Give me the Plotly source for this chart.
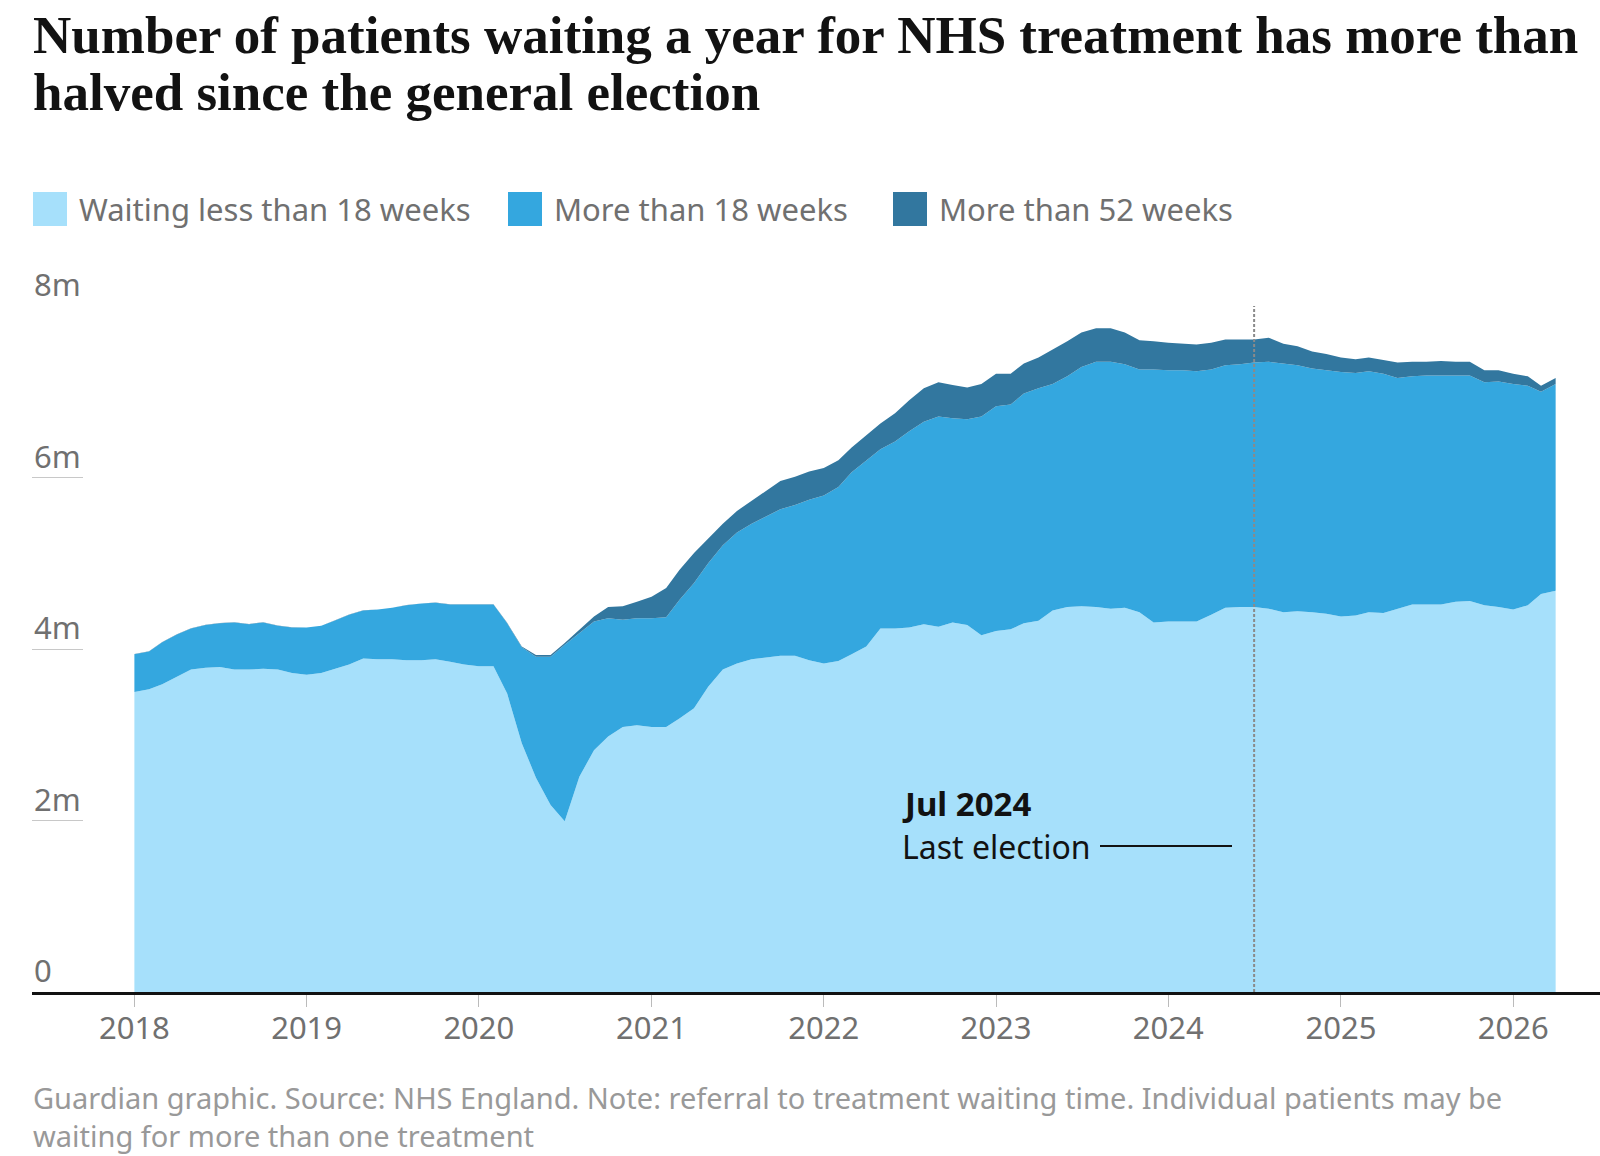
import pandas as pd
import plotly.graph_objects as go

# monthly NHS RTT waiting list, millions
under_18 = [3.50, 3.53, 3.59, 3.68, 3.76, 3.78, 3.79, 3.76, 3.76, 3.77,
            3.76, 3.72, 3.70, 3.72, 3.77, 3.82, 3.89, 3.88, 3.88, 3.87,
            3.87, 3.88, 3.85, 3.82, 3.80, 3.80, 3.48, 2.90, 2.50, 2.18,
            1.99, 2.51, 2.82, 2.98, 3.09, 3.11, 3.09, 3.09, 3.19, 3.31,
            3.56, 3.76, 3.83, 3.88, 3.90, 3.92, 3.92, 3.87, 3.83, 3.86,
            3.94, 4.03, 4.24, 4.24, 4.25, 4.29, 4.26, 4.31, 4.28, 4.16,
            4.21, 4.23, 4.30, 4.33, 4.45, 4.49, 4.50, 4.49, 4.47, 4.48,
            4.43, 4.31, 4.32, 4.32, 4.32, 4.40, 4.48, 4.49, 4.49, 4.47,
            4.43, 4.44, 4.43, 4.41, 4.38, 4.39, 4.43, 4.42, 4.47, 4.52,
            4.52, 4.52, 4.55, 4.56, 4.51, 4.49, 4.46, 4.51, 4.64, 4.68]

over_18 = [0.44, 0.44, 0.49, 0.49, 0.48, 0.50, 0.51, 0.55, 0.53, 0.54,
           0.51, 0.53, 0.55, 0.55, 0.56, 0.58, 0.56, 0.58, 0.60, 0.64,
           0.66, 0.66, 0.67, 0.70, 0.72, 0.72, 0.82, 1.12, 1.41, 1.73,
           2.06, 1.68, 1.50, 1.38, 1.25, 1.25, 1.27, 1.28, 1.38, 1.46,
           1.44, 1.45, 1.53, 1.58, 1.65, 1.71, 1.76, 1.87, 1.96, 2.03,
           2.12, 2.17, 2.09, 2.18, 2.29, 2.36, 2.45, 2.38, 2.40, 2.55,
           2.62, 2.62, 2.68, 2.71, 2.64, 2.69, 2.79, 2.86, 2.88, 2.84,
           2.83, 2.95, 2.93, 2.93, 2.92, 2.86, 2.83, 2.83, 2.85, 2.88,
           2.90, 2.87, 2.84, 2.84, 2.85, 2.83, 2.81, 2.79, 2.69, 2.66,
           2.67, 2.67, 2.64, 2.63, 2.60, 2.63, 2.63, 2.56, 2.36, 2.41]

over_52 = [0.003, 0.003, 0.003, 0.003, 0.003, 0.003, 0.003, 0.003, 0.003, 0.003,
           0.003, 0.003, 0.002, 0.002, 0.002, 0.002, 0.002, 0.002, 0.002, 0.002,
           0.002, 0.002, 0.002, 0.002, 0.002, 0.002, 0.005, 0.01, 0.02, 0.02,
           0.02, 0.03, 0.06, 0.13, 0.16, 0.19, 0.25, 0.34, 0.35, 0.35,
           0.29, 0.25, 0.25, 0.27, 0.30, 0.33, 0.33, 0.33, 0.32, 0.31,
           0.29, 0.29, 0.30, 0.33, 0.36, 0.39, 0.40, 0.39, 0.37, 0.38,
           0.38, 0.36, 0.35, 0.36, 0.40, 0.41, 0.40, 0.39, 0.39, 0.37,
           0.34, 0.33, 0.32, 0.31, 0.31, 0.31, 0.30, 0.29, 0.27, 0.28,
           0.23, 0.22, 0.20, 0.19, 0.17, 0.16, 0.16, 0.16, 0.18, 0.17,
           0.16, 0.17, 0.16, 0.16, 0.14, 0.13, 0.12, 0.11, 0.07, 0.07]

months = pd.date_range("2018-01-01", periods=len(under_18), freq="MS")

series_names = ["Waiting less than 18 weeks", "More than 18 weeks", "More than 52 weeks"]
series_colors = ["#a6e0fb", "#34a7df", "#32779f"]

year_ticks = [f"{y}-01-01" for y in range(2018, 2027)]
year_labels = [str(y) for y in range(2018, 2027)]
y_ticks = [0, 2, 4, 6, 8]
y_labels = ["0", "2m", "4m", "6m", "8m"]

election_date = "2024-07-01"

W, H = 1600, 1156
L, R, T, B = 32, 0, 306, 164
SANS = "Noto Sans"


def px(x):
    return (x - L) / (W - L - R)


def py(y):
    return (H - B - y) / (H - T - B)


fig = go.Figure()
for vals, name, col in zip([under_18, over_18, over_52], series_names, series_colors):
    fig.add_trace(go.Scatter(x=months, y=vals, name=name, stackgroup="one",
                             mode="lines", line=dict(width=0, color=col),
                             fillcolor=col, hoverinfo="skip", showlegend=False))

# election marker
fig.add_shape(type="line", xref="x", yref="y", x0=election_date, x1=election_date,
              y0=0, y1=8, line=dict(color="#8a8a8a", width=2, dash="3px,2px"), layer="above")
fig.add_shape(type="line", xref="paper", yref="paper", x0=px(1100), x1=px(1232),
              y0=py(846), y1=py(846), line=dict(color="#121212", width=2))

ann = []
ann.append(dict(text="<b>Jul 2024</b>", x=px(900), y=py(803), xanchor="left", yanchor="middle",
                font=dict(family=SANS, size=33, color="#121212")))
ann.append(dict(text="Last election", x=px(900), y=py(846), xanchor="left", yanchor="middle",
                font=dict(family=SANS, size=32, color="#121212")))

# y labels sit above the short tick lines
for v, lab in zip(y_ticks, y_labels):
    ann.append(dict(text=lab, xref="paper", yref="y", x=0, y=v, xanchor="left",
                    yanchor="middle", yshift=22, font=dict(family=SANS, size=31, color="#707070")))

# title
ann.append(dict(text="<b>Number of patients waiting a year for NHS treatment has more than</b>",
                x=px(31), y=py(35), xanchor="left", yanchor="middle",
                font=dict(family="Liberation Serif", size=53, color="#121212")))
ann.append(dict(text="<b>halved since the general election</b>",
                x=px(31), y=py(92), xanchor="left", yanchor="middle",
                font=dict(family="Liberation Serif", size=53, color="#121212")))

# legend
leg_sq = [33, 508, 893]
for x0, name, col in zip(leg_sq, series_names, series_colors):
    fig.add_shape(type="rect", xref="paper", yref="paper", x0=px(x0), x1=px(x0 + 34),
                  y0=py(192), y1=py(226), fillcolor=col, line=dict(width=0))
    ann.append(dict(text=name, x=px(x0 + 44), y=py(209), xanchor="left", yanchor="middle",
                    font=dict(family=SANS, size=31, color="#707070")))

# footer, one block with a line break
ann.append(dict(text="Guardian graphic. Source: NHS England. Note: referral to treatment waiting time. Individual patients may be"
                     "<br>waiting for more than one treatment",
                x=px(31), y=py(1116), xanchor="left", yanchor="middle", align="left",
                font=dict(family=SANS, size=29, color="#999999")))

for a in ann:
    a.setdefault("xref", "paper")
    a.setdefault("yref", "paper")
    a["showarrow"] = False

fig.update_layout(
    width=W, height=H,
    margin=dict(l=L, r=R, t=T, b=B, pad=0),
    paper_bgcolor="white", plot_bgcolor="white",
    annotations=ann,
    showlegend=False,
    hovermode=False,
)
fig.update_xaxes(type="date", range=["2017-05-29", "2026-07-04"],
                 tickvals=year_ticks, ticktext=year_labels,
                 tickfont=dict(family=SANS, size=31, color="#707070"),
                 ticks="outside", ticklen=12, tickcolor="#bbbbbb", tickwidth=1,
                 ticklabelstandoff=-5,
                 showline=True, linecolor="#121212", linewidth=3,
                 showgrid=False, zeroline=False)
fig.update_yaxes(range=[0, 8], tickvals=y_ticks, showticklabels=False,
                 ticks="inside", ticklen=51, tickcolor="#c8c8c8", tickwidth=1,
                 showline=False, showgrid=False, zeroline=False)

fig.write_html("out.html", config={"displayModeBar": False},
               post_script="document.body.style.margin='0';document.body.style.overflow='hidden';")
